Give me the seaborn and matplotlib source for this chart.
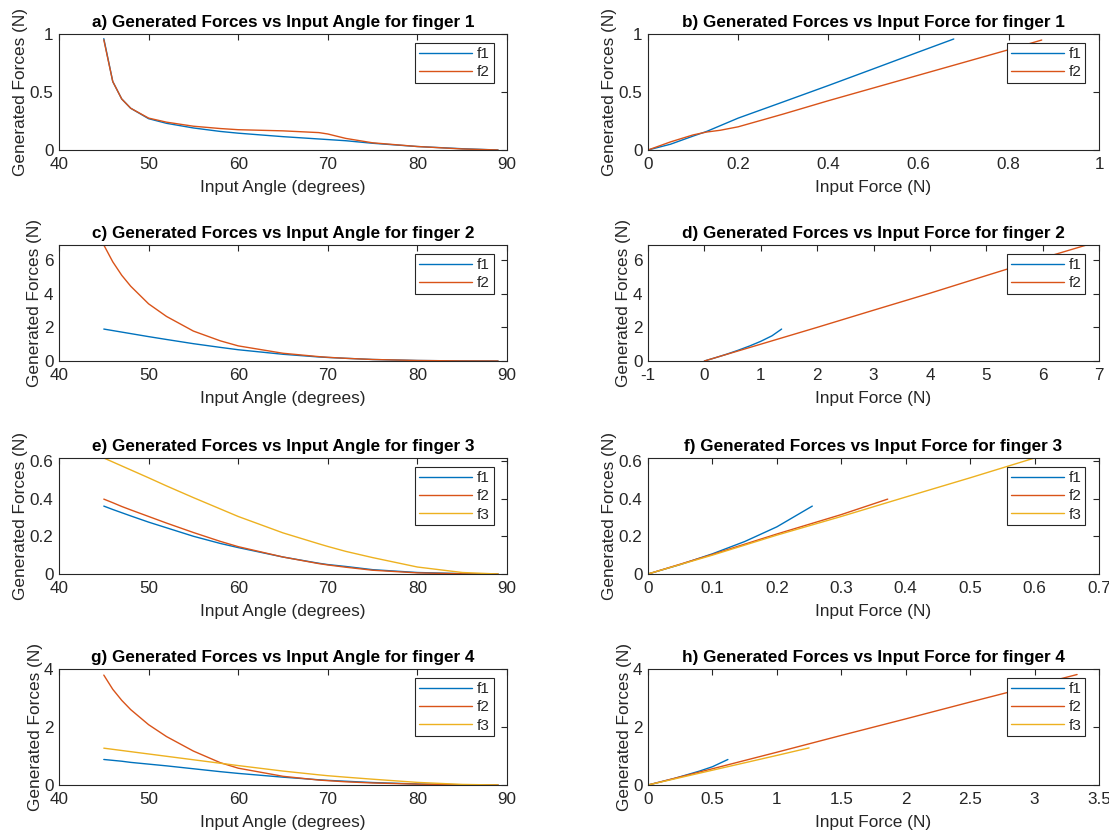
import pandas as pd
import matplotlib
matplotlib.use("Agg")
import matplotlib.pyplot as plt
import matplotlib.ticker as mticker
import seaborn as sns

# ---- data ----
ANGLE = [45, 46, 47, 48, 50, 52, 55, 58, 60, 65, 69, 70, 72, 75, 80, 85, 89]

# finger 1
a_f1 = [0.96, 0.59, 0.44, 0.36, 0.27, 0.23, 0.19, 0.16, 0.145, 0.115, 0.095, 0.09, 0.08, 0.058, 0.03, 0.011, 0.0]
a_f2 = [0.95, 0.59, 0.44, 0.36, 0.275, 0.24, 0.205, 0.185, 0.175, 0.165, 0.15, 0.138, 0.10, 0.062, 0.03, 0.009, 0.0]
# finger 2
c_f1 = [1.9, 1.81, 1.72, 1.63, 1.45, 1.28, 1.03, 0.81, 0.67, 0.40, 0.24, 0.21, 0.16, 0.09, 0.03, 0.006, 0.0]
c_f2 = [6.9, 5.9, 5.1, 4.45, 3.4, 2.65, 1.78, 1.2, 0.9, 0.46, 0.26, 0.22, 0.16, 0.09, 0.03, 0.005, 0.0]
# finger 3
e_f1 = [0.36, 0.342, 0.325, 0.308, 0.275, 0.245, 0.2, 0.162, 0.14, 0.09, 0.057, 0.05, 0.04, 0.023, 0.008, 0.002, 0.0]
e_f2 = [0.397, 0.378, 0.358, 0.34, 0.305, 0.27, 0.22, 0.173, 0.145, 0.09, 0.055, 0.048, 0.036, 0.02, 0.006, 0.001, 0.0]
e_f3 = [0.615, 0.594, 0.573, 0.552, 0.51, 0.467, 0.405, 0.345, 0.305, 0.218, 0.16, 0.146, 0.12, 0.087, 0.037, 0.008, 0.0]
# finger 4
g_f1 = [0.88, 0.85, 0.82, 0.78, 0.72, 0.66, 0.56, 0.46, 0.40, 0.27, 0.18, 0.16, 0.13, 0.085, 0.035, 0.008, 0.0]
g_f2 = [3.79, 3.3, 2.92, 2.6, 2.08, 1.67, 1.17, 0.77, 0.58, 0.30, 0.17, 0.15, 0.11, 0.07, 0.03, 0.005, 0.0]
g_f3 = [1.27, 1.23, 1.19, 1.15, 1.07, 0.99, 0.87, 0.75, 0.67, 0.48, 0.35, 0.32, 0.27, 0.2, 0.09, 0.02, 0.0]

# generated force vs input force
b_f1_x = [0, 0.05, 0.1, 0.13, 0.2, 0.3, 0.4, 0.5, 0.6, 0.678]
b_f1_y = [0, 0.05, 0.12, 0.16, 0.275, 0.415, 0.556, 0.70, 0.845, 0.957]
b_f2_x = [0, 0.05, 0.1, 0.13, 0.16, 0.2, 0.3, 0.4, 0.5, 0.6, 0.7, 0.8, 0.873]
b_f2_y = [0, 0.07, 0.13, 0.155, 0.17, 0.20, 0.31, 0.425, 0.535, 0.645, 0.755, 0.865, 0.948]

d_f1_x = [0, 0.2, 0.4, 0.6, 0.8, 1.0, 1.2, 1.37]
d_f1_y = [0, 0.2, 0.41, 0.64, 0.89, 1.17, 1.5, 1.9]
d_f2_x = [0, 1, 2, 3, 4, 5, 6, 6.78]
d_f2_y = [0, 1.0, 2.0, 3.02, 4.03, 5.08, 6.12, 6.9]

f_f1_x = [0, 0.05, 0.1, 0.15, 0.2, 0.255]
f_f1_y = [0, 0.05, 0.107, 0.172, 0.25, 0.36]
f_f2_x = [0, 0.1, 0.2, 0.3, 0.372]
f_f2_y = [0, 0.104, 0.212, 0.315, 0.397]
f_f3_x = [0, 0.1, 0.2, 0.3, 0.4, 0.5, 0.6]
f_f3_y = [0, 0.1, 0.206, 0.305, 0.408, 0.51, 0.615]

h_f1_x = [0, 0.2, 0.4, 0.5, 0.62]
h_f1_y = [0, 0.22, 0.48, 0.63, 0.88]
h_f2_x = [0, 0.5, 1, 1.5, 2, 2.5, 3, 3.33]
h_f2_y = [0, 0.56, 1.13, 1.71, 2.28, 2.86, 3.43, 3.81]
h_f3_x = [0, 0.5, 1, 1.25]
h_f3_y = [0, 0.51, 1.02, 1.28]

COLORS = {"f1": "#0072BD", "f2": "#D95319", "f3": "#EDB120"}
INK = "#262626"

sns.set_theme(style="white")
plt.rcParams.update({
    "font.family": ["Liberation Sans", "DejaVu Sans"],
    "axes.edgecolor": INK,
    "axes.linewidth": 0.8,
    "xtick.direction": "in",
    "ytick.direction": "in",
    "xtick.top": True,
    "ytick.right": True,
    "xtick.major.size": 4,
    "ytick.major.size": 4,
    "xtick.major.width": 0.8,
    "ytick.major.width": 0.8,
    "xtick.color": INK,
    "ytick.color": INK,
    "xtick.labelsize": 12.3,
    "ytick.labelsize": 12.3,
    "xtick.major.pad": 5,
    "ytick.major.pad": 4,
})


def series_frame(series):
    rows = []
    for name, xs, ys in series:
        for x, y in zip(xs, ys):
            rows.append({"x": x, "y": y, "series": name})
    return pd.DataFrame(rows)


def draw(ax, series, title, xlabel, xlim, xticks, ylim, yticks):
    df = series_frame(series)
    names = [s[0] for s in series]
    sns.lineplot(data=df, x="x", y="y", hue="series", hue_order=names,
                 palette=COLORS, sort=False, estimator=None, linewidth=1.0, ax=ax)
    ax.set_xlim(*xlim)
    ax.set_ylim(*ylim)
    ax.set_xticks(xticks)
    ax.set_yticks(yticks)
    fmt = mticker.FuncFormatter(lambda v, p: f"{v:g}")
    ax.xaxis.set_major_formatter(fmt)
    ax.yaxis.set_major_formatter(fmt)
    ax.set_title(title, fontsize=12.3, fontweight="bold", color="black", pad=5)
    ax.set_xlabel(xlabel, fontsize=12.4, color=INK, labelpad=6)
    ax.set_ylabel("Generated Forces (N)", fontsize=12.4, color=INK, labelpad=1)
    leg = ax.legend(loc="upper right", bbox_to_anchor=(0.97, 0.92), borderaxespad=0,
                    fontsize=11, handlelength=3.5, handletextpad=0.3, labelspacing=0.28,
                    borderpad=0.25, fancybox=False, framealpha=1, edgecolor=INK)
    leg.get_frame().set_linewidth(0.8)
    for t in leg.get_texts():
        t.set_color(INK)


fig = plt.figure(figsize=(11.09, 8.35), dpi=100)
W, H = 1109, 835
col_left = [59 / W, 648 / W]
col_width = [448 / W, 451 / W]
row_bottom = [1 - 150 / H, 1 - 361 / H, 1 - 574 / H, 1 - 785 / H]
row_height = 116 / H

angle_ticks = [40, 50, 60, 70, 80, 90]
panels = [
    # (row, col, series, title, xlabel, xlim, xticks, ylim, yticks)
    (0, 0, [("f1", ANGLE, a_f1), ("f2", ANGLE, a_f2)],
     "a) Generated Forces vs Input Angle for finger 1", "Input Angle (degrees)",
     (40, 90), angle_ticks, (0, 1), [0, 0.5, 1]),
    (0, 1, [("f1", b_f1_x, b_f1_y), ("f2", b_f2_x, b_f2_y)],
     "b) Generated Forces vs Input Force for finger 1", "Input Force (N)",
     (0, 1), [0, 0.2, 0.4, 0.6, 0.8, 1], (0, 1), [0, 0.5, 1]),
    (1, 0, [("f1", ANGLE, c_f1), ("f2", ANGLE, c_f2)],
     "c) Generated Forces vs Input Angle for finger 2", "Input Angle (degrees)",
     (40, 90), angle_ticks, (0, 6.9), [0, 2, 4, 6]),
    (1, 1, [("f1", d_f1_x, d_f1_y), ("f2", d_f2_x, d_f2_y)],
     "d) Generated Forces vs Input Force for finger 2", "Input Force (N)",
     (-1, 7), list(range(-1, 8)), (0, 6.9), [0, 2, 4, 6]),
    (2, 0, [("f1", ANGLE, e_f1), ("f2", ANGLE, e_f2), ("f3", ANGLE, e_f3)],
     "e) Generated Forces vs Input Angle for finger 3", "Input Angle (degrees)",
     (40, 90), angle_ticks, (0, 0.615), [0, 0.2, 0.4, 0.6]),
    (2, 1, [("f1", f_f1_x, f_f1_y), ("f2", f_f2_x, f_f2_y), ("f3", f_f3_x, f_f3_y)],
     "f) Generated Forces vs Input Force for finger 3", "Input Force (N)",
     (0, 0.7), [0, 0.1, 0.2, 0.3, 0.4, 0.5, 0.6, 0.7], (0, 0.615), [0, 0.2, 0.4, 0.6]),
    (3, 0, [("f1", ANGLE, g_f1), ("f2", ANGLE, g_f2), ("f3", ANGLE, g_f3)],
     "g) Generated Forces vs Input Angle for finger 4", "Input Angle (degrees)",
     (40, 90), angle_ticks, (0, 4), [0, 2, 4]),
    (3, 1, [("f1", h_f1_x, h_f1_y), ("f2", h_f2_x, h_f2_y), ("f3", h_f3_x, h_f3_y)],
     "h) Generated Forces vs Input Force for finger 4", "Input Force (N)",
     (0, 3.5), [0, 0.5, 1, 1.5, 2, 2.5, 3, 3.5], (0, 4), [0, 2, 4]),
]

for r, c, series, title, xlabel, xlim, xticks, ylim, yticks in panels:
    ax = fig.add_axes([col_left[c], row_bottom[r], col_width[c], row_height])
    draw(ax, series, title, xlabel, xlim, xticks, ylim, yticks)

fig.savefig("out.png", dpi=100, facecolor="white")
